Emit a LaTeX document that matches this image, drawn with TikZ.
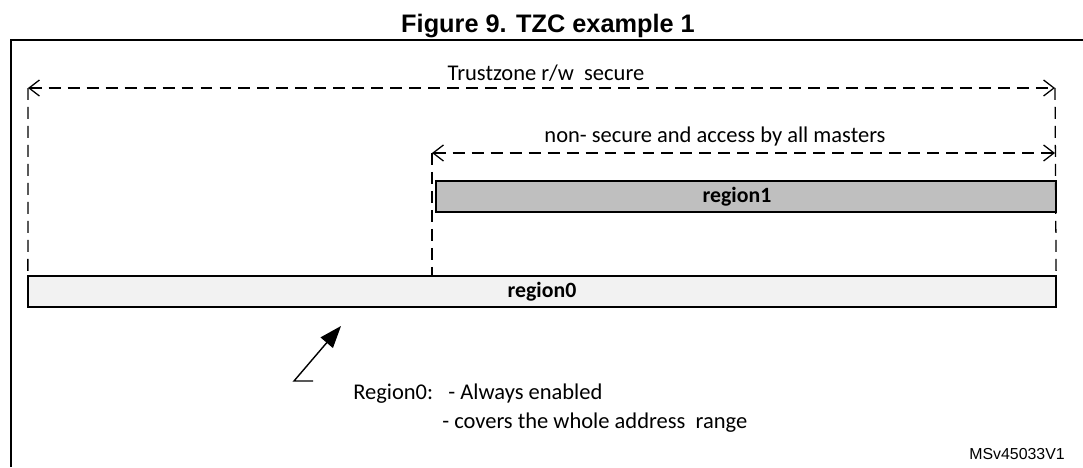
\documentclass[tikz,border=0pt]{standalone}
\usepackage{fontspec}
\setmainfont{Carlito}
\newfontfamily\arialfont{Liberation Sans}
\usetikzlibrary{positioning, arrows.meta, calc}
\definecolor{regionzerocolor}{RGB}{242, 242, 242}
\definecolor{regiononecolor}{RGB}{191, 191, 191}

\begin{document}
\begin{tikzpicture}[
    x=0.025cm, y=-0.025cm,
    region/.style={rectangle, draw, line width=1pt, inner sep=0pt, outer sep=0pt,
        minimum height=0.775cm, font=\fontsize{15.5}{18}\selectfont\bfseries},
    dimline/.style={line width=0.9pt, dash pattern=on 8.5pt off 5pt},
    dimarrow/.style={dimline, {Straight Barb[length=2.6mm, width=4mm]}-{Straight Barb[length=2.6mm, width=4mm]}},
    label/.style={font=\fontsize{16}{19}\selectfont, inner sep=0pt, anchor=base},
    pointer/.style={-{Triangle[length=5.5mm, width=4mm]}, line width=1pt},
]

% Canvas
\useasboundingbox (0,0) rectangle (1083,467);

% Title
\node[font=\arialfont\fontsize{18}{21}\selectfont\bfseries, inner sep=0pt, anchor=base] (title) at (548,32) {Figure 9. TZC example 1};

% Frame
\draw[line width=1.4pt] (11,467) -- (11,40) -- (1083,40);

% Regions
\node[region, fill=regionzerocolor, minimum width=25.7cm] (region0) at (542,291.5) {region0};
\node[region, fill=regiononecolor, minimum width=15.5cm] (region1) at (746,196.5) {\hspace*{-0.45cm}region1};

% Dimension lines
\coordinate (trustleft) at (28,88);
\coordinate (trustright) at (1055,88);
\coordinate (nsleft) at (432,153);
\coordinate (nsright) at (1055,153);

\draw[dimline] (trustleft) -- (region0.north west);
\draw[dimline] (trustright) -- (region0.north east);
\draw[dimline] (nsleft) -- (nsleft |- region0.north);

\draw[dimarrow] (trustleft) -- (trustright);
\draw[dimarrow] (nsleft) -- (nsright);

% Labels of the dimension lines
\node[label] (trustlabel) at (546,80) {Trustzone r/w~ secure};
\node[label] (nslabel) at (715,142) {non- secure and access by all masters};

% Pointer to region0
\coordinate (pointertail) at (313,381);
\coordinate (pointerbend) at (294,381);
\coordinate (pointertip) at (341,326);
\draw[pointer] (pointertail) -- (pointerbend) -- (pointertip);

% Notes
\node[label, anchor=base west] (note1) at (353,399) {Region0:~~~- Always enabled};
\node[label, anchor=base west] (note2) at (442,428) {- covers the whole address~ range};

% Reference
\node[font=\arialfont\fontsize{11.3}{13}\selectfont, inner sep=0pt, anchor=base east] (ref) at (1065,459) {MSv45033V1};

\end{tikzpicture}
\end{document}
